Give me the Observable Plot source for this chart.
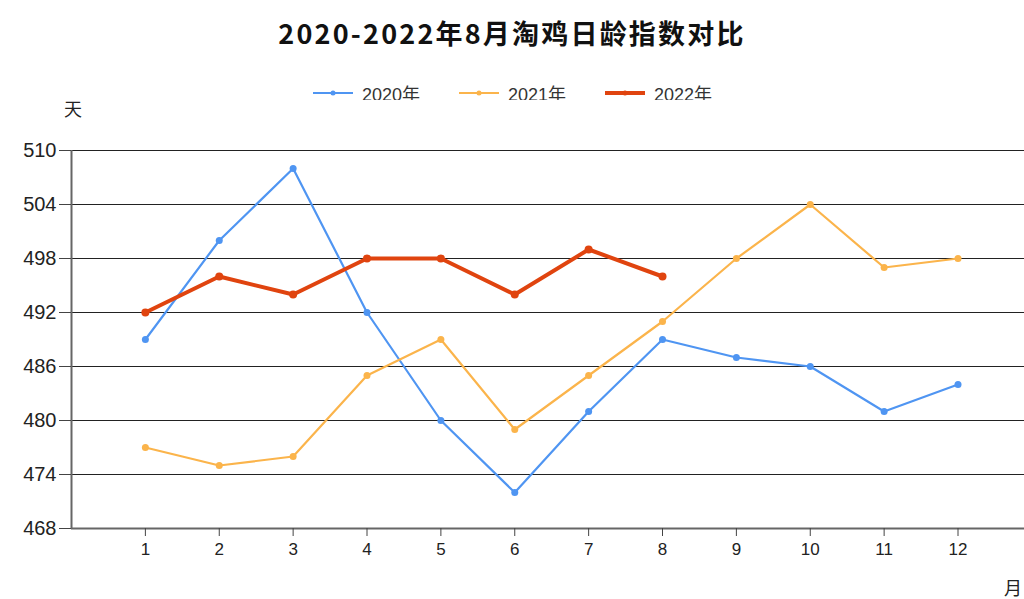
<!DOCTYPE html>
<html>
<head>
<meta charset="utf-8">
<script src="https://cdn.jsdelivr.net/npm/d3@7"></script>
<script src="https://cdn.jsdelivr.net/npm/@observablehq/plot@0.6"></script>
<style>
  html, body { margin: 0; padding: 0; background: #fff; width: 1024px; height: 599px; overflow: hidden; position: relative; font-family: "Liberation Sans", "Noto Sans CJK SC", sans-serif; }
  #title { position: absolute; left: 0; top: 13px; width: 1024px; text-align: center; font-family: "Noto Sans CJK SC", sans-serif; font-weight: 700; font-size: 27px; letter-spacing: 2.2px; color: #111; line-height: 40px; }
  #legend { position: absolute; left: 0; top: 80px; width: 1024px; display: flex; justify-content: center; gap: 38px; font-size: 18px; color: #333; }
  #legend .item { display: flex; align-items: center; gap: 8px; }
  #chart { position: absolute; left: 0; top: 100px; }
  .unit { position: absolute; font-family: "Noto Sans CJK SC", sans-serif; font-size: 18px; color: #222; }
</style>
</head>
<body>
<div id="title"></div>
<div id="legend"></div>
<div id="chart"></div>
<div class="unit" id="uy" style="left:64px; top:95px;">天</div>
<div class="unit" id="ux" style="left:1004px; top:574px;">月</div>
<script>
const titleText = "2020-2022年8月淘鸡日龄指数对比";
const months = [1,2,3,4,5,6,7,8,9,10,11,12];
const seriesNames = ["2020年", "2021年", "2022年"];
const values2020 = [489, 500, 508, 492, 480, 472, 481, 489, 487, 486, 481, 484];
const values2021 = [477, 475, 476, 485, 489, 479, 485, 491, 498, 504, 497, 498];
const values2022 = [492, 496, 494, 498, 498, 494, 499, 496];
const yTicks = [468, 474, 480, 486, 492, 498, 504, 510];
const colors = ["#4f95f2", "#fbb44b", "#e0440f"];
const widths = [2.2, 2.2, 4];

document.getElementById("title").textContent = titleText;

const allSeries = [values2020, values2021, values2022];
const data = [];
allSeries.forEach((vals, si) => vals.forEach((v, i) => data.push({month: months[i], value: v, series: seriesNames[si]})));

// legend
const leg = document.getElementById("legend");
seriesNames.forEach((name, i) => {
  const item = document.createElement("div");
  item.className = "item";
  item.innerHTML = `<svg width="42" height="12"><line x1="1" x2="41" y1="6" y2="6" stroke="${colors[i]}" stroke-width="${widths[i]}"/><circle cx="21" cy="6" r="2.5" fill="${colors[i]}"/></svg><span>${name}</span>`;
  leg.appendChild(item);
});

const marks = [
  Plot.ruleY(yTicks, {x1: 0, x2: 12.9, stroke: "#222", strokeWidth: 1.2}),
  Plot.ruleX([0], {y1: 468, y2: 510, stroke: "#666", strokeWidth: 2}),
  Plot.ruleY([468], {x1: 0, x2: 12.9, stroke: "#666", strokeWidth: 2}),
  Plot.axisY({ticks: yTicks, tickSize: 12, tickPadding: 3, fontSize: 20, label: null, stroke: "#444"}),
  Plot.axisX({ticks: months, tickSize: 8, tickPadding: 6, fontSize: 17, label: null, stroke: "#444"})
];
seriesNames.forEach((name, i) => {
  const d = data.filter(r => r.series === name);
  marks.push(Plot.line(d, {x: "month", y: "value", stroke: colors[i], strokeWidth: widths[i]}));
  marks.push(Plot.dot(d, {x: "month", y: "value", fill: colors[i], r: i === 2 ? 4 : 3.5}));
});

const chart = Plot.plot({
  width: 1024,
  height: 499,
  marginTop: 50,
  marginBottom: 71,
  marginLeft: 71,
  marginRight: 0,
  style: {fontFamily: "'Liberation Sans', 'Noto Sans CJK SC', sans-serif", color: "#222", background: "#fff"},
  x: {domain: [0, 12.9]},
  y: {domain: [468, 510]},
  marks
});
document.getElementById("chart").appendChild(chart);
</script>
</body>
</html>
